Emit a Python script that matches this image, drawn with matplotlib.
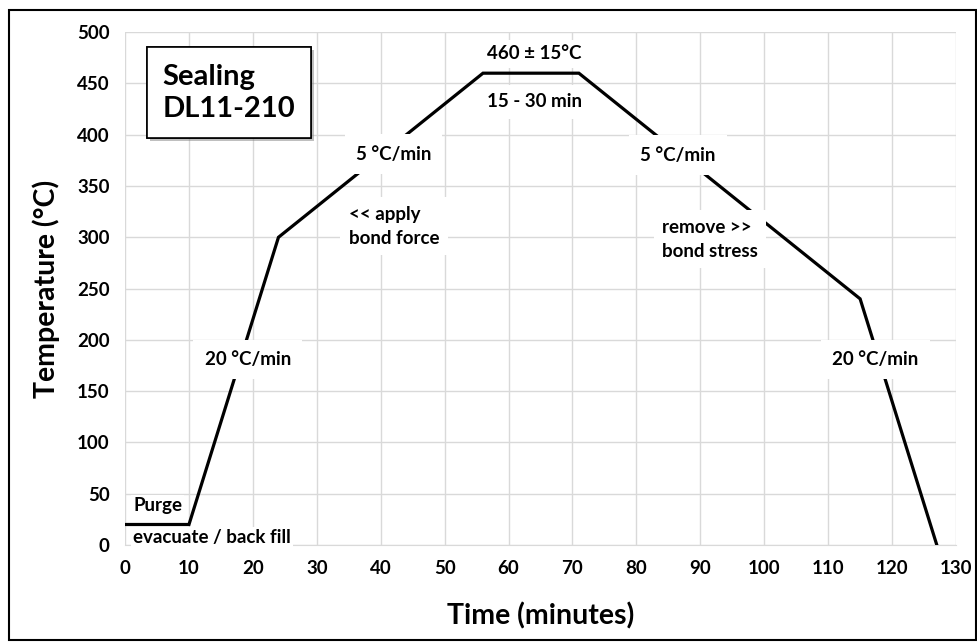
import matplotlib
matplotlib.use("Agg")
import matplotlib.pyplot as plt
import matplotlib.patheffects as pe
from matplotlib.patches import Rectangle

plt.rcParams['font.family'] = ['Lato', 'DejaVu Sans']
plt.rcParams['font.weight'] = 'bold'

# sealing profile
time_min = [0, 10, 24, 56, 71, 115, 127]
temp_c = [20, 20, 300, 460, 460, 240, 0]

x_ticks = list(range(0, 131, 10))
y_ticks = list(range(0, 501, 50))

# annotation labels (text, x, y, horizontal alignment, box padding)
labels = [
    ('460 ± 15°C', 64, 479, 'center', 0.3),
    ('15 - 30 min', 64, 432, 'center', 0.45),
    ('5 °C/min', 42, 381, 'center', 0.6),
    ('5 °C/min', 86.5, 380, 'center', 0.6),
    ('<< apply\nbond force', 35, 311, 'left', 0.45),
    ('remove >>\nbond stress', 84, 298, 'left', 0.45),
    ('20 °C/min', 19.2, 181, 'center', 0.6),
    ('20 °C/min', 117.4, 181, 'center', 0.6),
    ('Purge', 1.3, 39, 'left', 0.1),
    ('evacuate / back fill', 1.3, 7, 'left', 0.1),
]

fig = plt.figure(figsize=(9.77, 6.43), dpi=100)
ax = fig.add_axes([0.128, 0.1524, 0.8505, 0.7976])

ax.plot(time_min, temp_c, color='black', lw=2.3, solid_joinstyle='miter', zorder=3)

ax.set_xlim(0, 130)
ax.set_ylim(0, 500)
ax.set_xticks(x_ticks)
ax.set_yticks(y_ticks)
ax.grid(True, color='#d9d9d9', lw=1)
ax.set_axisbelow(True)
ax.tick_params(length=0, labelsize=13.5, pad=11)
for lbl in ax.get_xticklabels() + ax.get_yticklabels():
    lbl.set_fontweight('bold')
for s in ['top', 'right', 'left']:
    ax.spines[s].set_visible(False)
ax.spines['bottom'].set_color('#d9d9d9')

ax.set_xlabel('Time (minutes)', fontsize=20.5, fontweight='bold', labelpad=18)
ax.set_ylabel('Temperature (°C)', fontsize=20.5, fontweight='bold', labelpad=12)

for txt, x, y, ha, pad in labels:
    ax.text(x, y, txt, ha=ha, va='center', fontsize=13.5, fontweight='bold',
            linespacing=1.5, zorder=4,
            bbox=dict(boxstyle='square,pad=%s' % pad, fc='white', ec='none'))

title = ax.text(5.9, 441, 'Sealing\nDL11-210', ha='left', va='center',
                fontsize=21, fontweight='bold', linespacing=1.3, zorder=5,
                bbox=dict(boxstyle='square,pad=0.55', fc='white', ec='black', lw=1.2))
title.get_bbox_patch().set_path_effects(
    [pe.withSimplePatchShadow(offset=(2, -2), shadow_rgbFace='gray', alpha=0.5), pe.Normal()])

# outer frame
fig.patches.append(Rectangle((0.009, 0.005), 0.99, 0.98, transform=fig.transFigure,
                             fill=False, ec='black', lw=1.5))

fig.savefig('out.png', dpi=100)
